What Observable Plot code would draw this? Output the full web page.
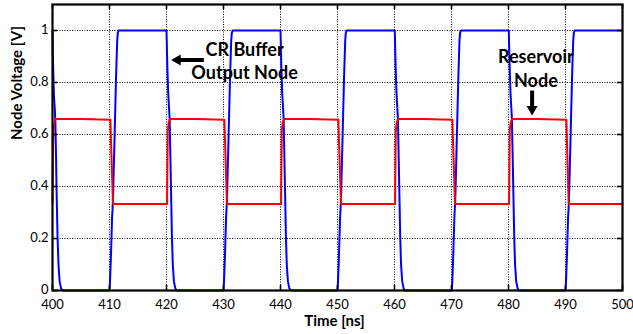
<!DOCTYPE html>
<html>
<head>
<meta charset="utf-8">
<script src="https://cdn.jsdelivr.net/npm/d3@7"></script>
<script src="https://cdn.jsdelivr.net/npm/@observablehq/plot@0.6"></script>
<style>
  html, body { margin: 0; padding: 0; background: #fff; }
  #chart { width: 633px; height: 334px; }
</style>
</head>
<body>
<div id="chart"></div>
<script>
// Tick values
const xTicks = [400, 410, 420, 430, 440, 450, 460, 470, 480, 490, 500];
const yTicks = [0, 0.2, 0.4, 0.6, 0.8, 1];

// CR buffer output node (blue) : [time ns, voltage V]
const bufferOutput = [
  [400.0,1.0],[400.1,0.87],[400.25,0.75],[400.4,0.70],[400.5,0.65],[400.6,0.54],[400.72,0.38],[400.88,0.21],[401.05,0.1],[401.25,0.035],[401.5,0.008],[401.75,0],
  [410.0,0],[410.1,0.04],[410.25,0.13],[410.45,0.28],[410.55,0.32],[410.65,0.38],[410.9,0.6],[411.15,0.82],[411.35,0.96],[411.45,0.99],[411.6,1.0],
  [420.0,1.0],[420.15,0.86],[420.3,0.76],[420.45,0.70],[420.55,0.66],[420.65,0.55],[420.8,0.38],[420.95,0.21],[421.1,0.1],[421.3,0.035],[421.55,0.008],[421.8,0],
  [430.0,0],[430.1,0.04],[430.25,0.13],[430.45,0.28],[430.55,0.32],[430.65,0.38],[430.9,0.6],[431.15,0.82],[431.35,0.96],[431.45,0.99],[431.6,1.0],
  [440.0,1.0],[440.15,0.86],[440.3,0.76],[440.45,0.70],[440.55,0.66],[440.65,0.55],[440.8,0.38],[440.95,0.21],[441.1,0.1],[441.3,0.035],[441.55,0.008],[441.8,0],
  [450.0,0],[450.1,0.04],[450.25,0.13],[450.45,0.28],[450.55,0.32],[450.65,0.38],[450.9,0.6],[451.15,0.82],[451.35,0.96],[451.45,0.99],[451.6,1.0],
  [460.05,1.0],[460.2,0.86],[460.35,0.76],[460.5,0.70],[460.6,0.66],[460.7,0.55],[460.85,0.38],[461.0,0.21],[461.15,0.1],[461.35,0.035],[461.6,0.008],[461.8,0],
  [470.05,0],[470.15,0.04],[470.3,0.13],[470.5,0.28],[470.6,0.32],[470.7,0.38],[470.95,0.6],[471.2,0.82],[471.4,0.96],[471.5,0.99],[471.65,1.0],
  [480.05,1.0],[480.2,0.86],[480.35,0.76],[480.5,0.70],[480.6,0.66],[480.7,0.55],[480.85,0.38],[481.0,0.21],[481.15,0.1],[481.35,0.035],[481.6,0.008],[481.8,0],
  [490.0,0],[490.1,0.04],[490.25,0.13],[490.45,0.28],[490.55,0.32],[490.65,0.38],[490.9,0.6],[491.15,0.82],[491.35,0.96],[491.45,0.99],[491.6,1.0],
  [500.0,1.0]
];

// Reservoir node (red) : [time ns, voltage V]
const reservoirNode = [
  [400.0,0.333],[400.1,0.55],[400.2,0.62],[400.35,0.65],[400.55,0.66],[405.0,0.66],[410.15,0.657],[410.6,0.34],[410.7,0.333],
  [420.1,0.333],[420.22,0.615],[420.4,0.648],[420.65,0.66],[425.0,0.66],[430.15,0.657],[430.6,0.34],[430.7,0.333],
  [440.1,0.333],[440.22,0.615],[440.4,0.648],[440.65,0.66],[445.0,0.66],[450.15,0.657],[450.6,0.34],[450.7,0.333],
  [460.1,0.333],[460.22,0.615],[460.4,0.648],[460.65,0.66],[465.0,0.66],[470.15,0.657],[470.6,0.34],[470.7,0.333],
  [480.1,0.333],[480.22,0.615],[480.4,0.648],[480.65,0.66],[485.0,0.66],[490.15,0.657],[490.55,0.34],[490.65,0.333],
  [500.0,0.333]
];

// Annotations
const annotationText = [
  {x: 433.7, y: 0.926, label: "CR Buffer"},
  {x: 433.7, y: 0.8365, label: "Output Node"},
  {x: 484.8, y: 0.897, label: "Reservoir"},
  {x: 484.8, y: 0.8045, label: "Node"}
];
const arrowShafts = [
  {x1: 426.55, y1: 0.8865, x2: 422.0, y2: 0.8865},
  {x1: 484.14, y1: 0.769, x2: 484.14, y2: 0.70}
];
const arrowHeads = [
  {x: 421.93, y: 0.8865, rot: -90},
  {x: 484.14, y: 0.6977, rot: 180}
];

const gridStyle = {stroke: "#000", strokeOpacity: 1, strokeWidth: 1, strokeDasharray: "1,1.5"};
const tickStyle = {stroke: "#000", strokeWidth: 1.6};

const chart = Plot.plot({
  width: 633,
  height: 334,
  marginLeft: 52,
  marginRight: 11,
  marginTop: 4,
  marginBottom: 44,
  style: {fontFamily: "Lato, 'Open Sans', sans-serif", fontSize: "13px", color: "#000", background: "#fff"},
  x: {domain: [400, 500]},
  y: {domain: [0, 1.1]},
  marks: [
    Plot.gridX(xTicks, gridStyle),
    Plot.gridY(yTicks, gridStyle),
    Plot.line(bufferOutput, {x: d => d[0], y: d => d[1], stroke: "#0000ff", strokeWidth: 2}),
    Plot.line(reservoirNode, {x: d => d[0], y: d => d[1], stroke: "#ff0000", strokeWidth: 2}),
    // inward tick marks on all four sides
    Plot.ruleX(xTicks, {x: d => d, y1: 0, y2: 0.019, ...tickStyle}),
    Plot.ruleX(xTicks, {x: d => d, y1: 1.1, y2: 1.081, ...tickStyle}),
    Plot.ruleY(yTicks, {y: d => d, x1: 400, x2: 400.9, ...tickStyle}),
    Plot.ruleY(yTicks, {y: d => d, x1: 499.1, x2: 500, ...tickStyle}),
    Plot.frame({stroke: "#000", strokeWidth: 2.2}),
    Plot.axisX(xTicks, {tickSize: 0, tickPadding: 9, label: null, tickFormat: d => String(d), fontSize: 13}),
    Plot.axisY(yTicks, {tickSize: 0, tickPadding: 4, label: null, tickFormat: d => String(d), fontSize: 13, dy: -1}),
    Plot.text(["Time [ns]"], {text: d => d, frameAnchor: "bottom", lineAnchor: "middle", dx: -3, dy: 31, fontWeight: "bold", fontSize: 15}),
    Plot.text(["Node Voltage [V]"], {text: d => d, frameAnchor: "left", lineAnchor: "middle", dx: -35.5, dy: -7.5, rotate: -90, fontWeight: "bold", fontSize: 15}),
    Plot.link(arrowShafts, {x1: "x1", y1: "y1", x2: "x2", y2: "y2", stroke: "#000", strokeWidth: 4}),
    Plot.dot(arrowHeads, {x: "x", y: "y", symbol: "triangle", r: 4.1, fill: "#000", stroke: "none", rotate: "rot"}),
    Plot.text(annotationText, {x: "x", y: "y", text: "label", fontWeight: "bold", fontSize: 18, fill: "#000"})
  ]
});
document.getElementById("chart").appendChild(chart);
</script>
</body>
</html>
